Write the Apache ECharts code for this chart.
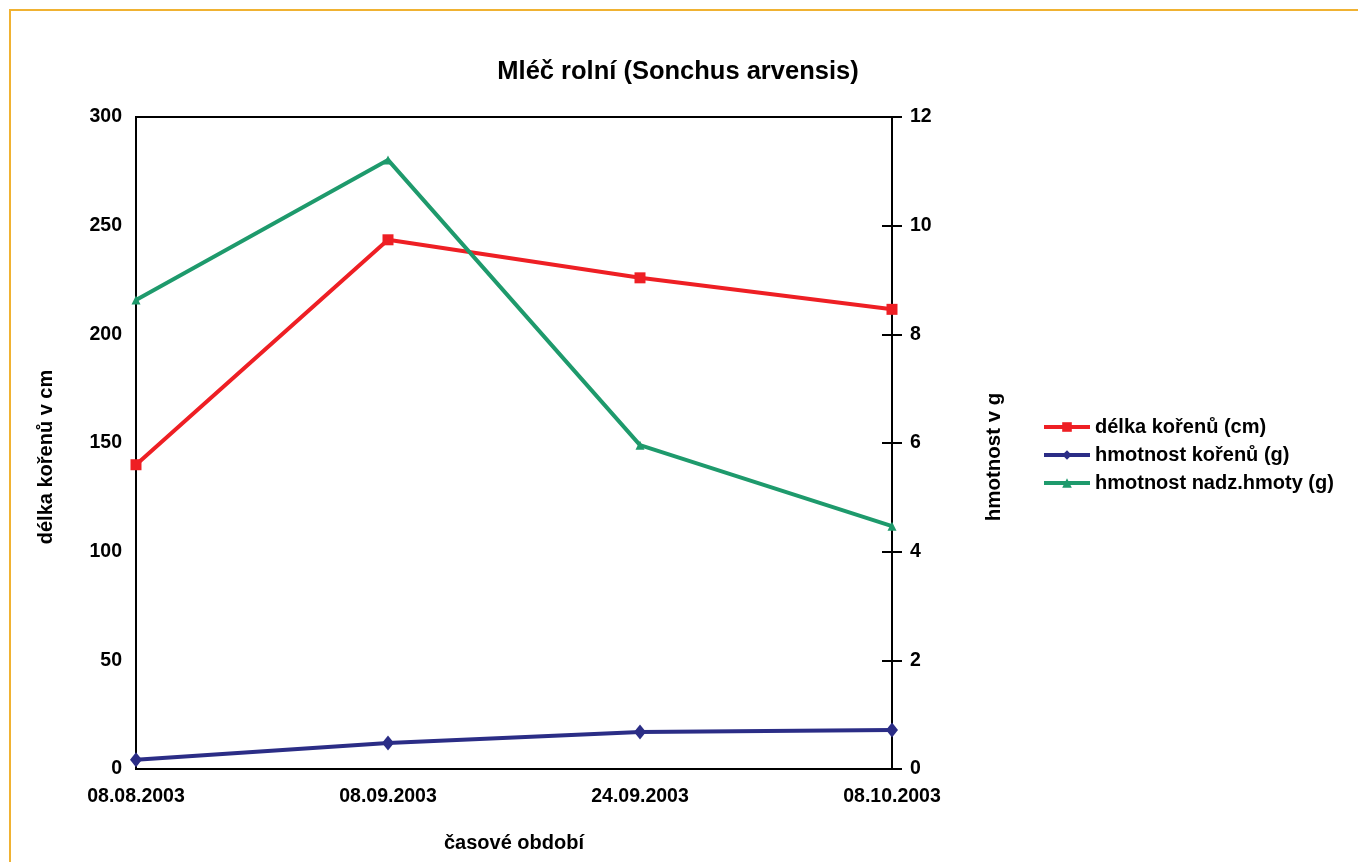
<!DOCTYPE html>
<html>
<head>
<meta charset="utf-8">
<script src="https://cdn.jsdelivr.net/npm/echarts@6/dist/echarts.min.js"></script>
<style>
html,body{margin:0;padding:0;background:#fff;}
#frame{position:absolute;left:9px;top:9px;width:1400px;height:900px;border-left:2px solid #f0b232;border-top:2px solid #f0b232;}
#chart{position:absolute;left:0;top:0;width:1358px;height:862px;}
</style>
</head>
<body>
<div id="frame"></div>
<div id="chart"></div>
<script>
const titleText = 'Mléč rolní (Sonchus arvensis)';
const categories = ['08.08.2003', '08.09.2003', '24.09.2003', '08.10.2003'];
const delkaKorenu = [140, 243.5, 226, 211.5];
const hmotnostKorenu = [0.17, 0.48, 0.68, 0.72];
const hmotnostNadz = [8.63, 11.21, 5.96, 4.47];
const seriesNames = ['délka kořenů (cm)', 'hmotnost kořenů (g)', 'hmotnost nadz.hmoty (g)'];
const leftAxisName = 'délka kořenů v cm';
const rightAxisName = 'hmotnost v g';
const xAxisName = 'časové období';

const FONT = '"Liberation Sans", Arial, sans-serif';
const lblStyle = {color:'#000', fontWeight:'bold', fontSize:19.5, fontFamily:FONT};

const chart = echarts.init(document.getElementById('chart'), null, {renderer:'canvas'});
chart.setOption({
  backgroundColor: 'transparent',
  animation: false,
  title: {
    text: titleText, left: 673, top: 54, textAlign: 'center',
    textStyle: {fontSize:25.5, fontWeight:'bold', color:'#000', fontFamily:FONT}
  },
  legend: {
    orient: 'vertical', left: 1037, top: 412,
    itemWidth: 46, itemHeight: 12, itemGap: 8,
    lineStyle: {width: 4},
    textStyle: {fontSize:20, fontWeight:'bold', color:'#000', fontFamily:FONT},
    data: seriesNames
  },
  grid: {left:136, right:466, top:117, bottom:93, show:true, borderColor:'#000', borderWidth:2, backgroundColor:'transparent'},
  xAxis: {
    type:'category', data:categories, boundaryGap:false,
    axisLine:{lineStyle:{color:'#000', width:2}},
    axisTick:{show:false},
    axisLabel:Object.assign({margin:18, interval:0}, lblStyle),
    name: xAxisName, nameLocation:'middle', nameGap:64,
    nameTextStyle: Object.assign({}, lblStyle, {fontSize:20})
  },
  yAxis: [
    {
      type:'value', position:'left', min:0, max:300, interval:50,
      axisLine:{show:true, lineStyle:{color:'#000', width:2}},
      axisTick:{show:false},
      splitLine:{show:false},
      axisLabel:Object.assign({margin:14}, lblStyle),
      name: leftAxisName, nameLocation:'middle', nameGap:80, nameRotate:90,
      nameTextStyle: Object.assign({padding:[0,28,0,0]}, lblStyle, {fontSize:20})
    },
    {
      type:'value', position:'right', min:0, max:12, interval:2,
      axisLine:{show:true, lineStyle:{color:'#000', width:2}},
      axisTick:{show:true, length:10, lineStyle:{color:'#000', width:2}},
      splitLine:{show:false},
      axisLabel:Object.assign({margin:18}, lblStyle),
      name: rightAxisName, nameLocation:'middle', nameGap:92, nameRotate:90,
      nameTextStyle: Object.assign({padding:[0,28,0,0]}, lblStyle, {fontSize:20.5})
    },
    {
      type:'value', position:'right', min:0, max:12, interval:2,
      axisLine:{show:false},
      axisTick:{show:true, inside:true, length:10, lineStyle:{color:'#000', width:2}},
      splitLine:{show:false},
      axisLabel:{show:false}
    }
  ],
  series: [
    {
      name: seriesNames[0], type:'line', yAxisIndex:0, data:delkaKorenu,
      symbol:'rect', symbolSize:11, color:'#ee1f24',
      lineStyle:{width:4, color:'#ee1f24'}, itemStyle:{color:'#ee1f24'}
    },
    {
      name: seriesNames[1], type:'line', yAxisIndex:1, data:hmotnostKorenu,
      symbol:'diamond', symbolSize:[12,15], color:'#2b2d86',
      lineStyle:{width:4, color:'#2b2d86'}, itemStyle:{color:'#2b2d86'}
    },
    {
      name: seriesNames[2], type:'line', yAxisIndex:1, data:hmotnostNadz,
      symbol:'triangle', symbolSize:9, color:'#1e9a6c',
      lineStyle:{width:4, color:'#1e9a6c'}, itemStyle:{color:'#1e9a6c'}
    }
  ]
});
</script>
</body>
</html>
